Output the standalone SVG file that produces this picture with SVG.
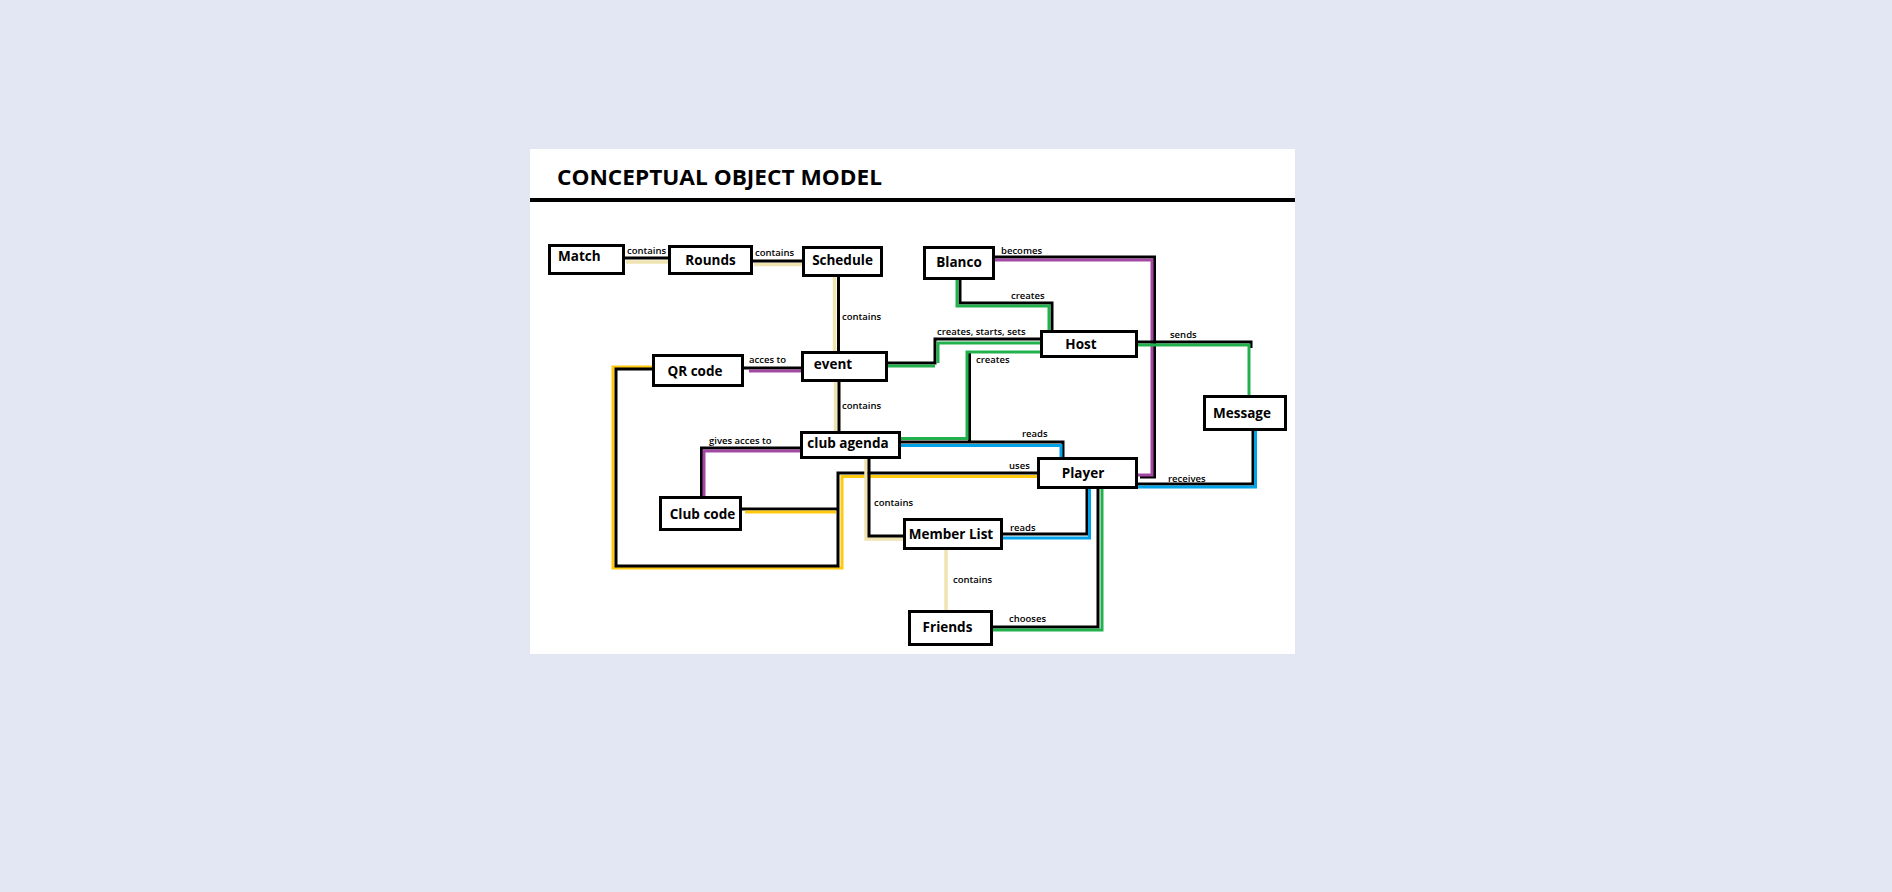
<svg xmlns="http://www.w3.org/2000/svg" width="1892" height="892" viewBox="0 0 1892 892">
<style>
.box{fill:#fff;stroke:#000;stroke-width:3}
.bt{font-family:"Open Sans","Liberation Sans",sans-serif;font-weight:700;font-size:13.5px;fill:#000}
.lb{font-family:"Open Sans","Liberation Sans",sans-serif;font-weight:600;font-size:9.5px;fill:#000}
.k{fill:none;stroke:#000;stroke-width:3}
.tan{fill:none;stroke:#EFE4B0;stroke-width:3.5}
.pur{fill:none;stroke:#A349A4;stroke-width:3}
.grn{fill:none;stroke:#22B14C;stroke-width:3}
.blu{fill:none;stroke:#00A2E8;stroke-width:3}
.yel{fill:none;stroke:#FFC90E;stroke-width:3}
</style>
<rect x="0" y="0" width="1892" height="892" fill="#E3E7F3"/>
<rect x="530" y="149" width="765" height="505" fill="#fff"/>
<text x="557" y="185" font-family="'Open Sans','Liberation Sans',sans-serif" font-weight="700" font-size="22" fill="#000" textLength="325" lengthAdjust="spacingAndGlyphs">CONCEPTUAL OBJECT MODEL</text>
<rect x="530" y="198" width="765" height="4" fill="#000"/>

<g id="connectors">
  <path class="tan" d="M626,262 H668"/>
  <path class="k" d="M625,258 H668"/>
  <path class="tan" d="M754,264.5 H802"/>
  <path class="k" d="M753,261 H802"/>
  <path class="tan" d="M834.5,277 V351"/>
  <path class="k" d="M838.5,277 V351"/>
  <path class="tan" d="M835.5,382 V431"/>
  <path class="k" d="M839,382 V431"/>
  <path class="k" d="M744,368 H801"/>
  <path class="pur" d="M749,371 H801"/>
  <path class="k" d="M800,448 H701.5 V496"/>
  <path class="pur" d="M800,451 H704 V496"/>
  <path class="k" d="M888,363 H935 V339 H1040"/>
  <path class="grn" d="M888,366 H935"/>
  <path class="grn" d="M938,363 V343 H1040"/>
  <path class="k" d="M969.5,352 V442"/>
  <path class="grn" d="M1040,352 H967 V438.5 H901"/>
  <path class="k" d="M901,442 H1063 V457"/>
  <path class="blu" d="M901,445.5 H1061 V457"/>
  <path class="k" d="M960,280 V303 H1052 V330"/>
  <path class="grn" d="M957,280 V306 H1049 V330"/>
  <path class="k" d="M995,257 H1156"/>
  <path class="k" d="M1154.5,257 V477 H1140"/>
  <path class="pur" d="M995,260 H1152 V475 H1138"/>
  <path class="k" d="M1138,342 H1251 V348"/>
  <path class="grn" d="M1138,345 H1249 V395"/>
  <path class="k" d="M1253,431 V484 H1138"/>
  <path class="blu" d="M1255.5,431 V487 H1138"/>
  <path class="yel" d="M1037,476.5 H842 V568 H613 V367 H652"/>
  <path class="k" d="M1037,473 H838 V566 H616 V369 H652"/>
  <path class="k" d="M742,509 H839"/>
  <path class="yel" d="M745,512 H836"/>
  <path class="tan" d="M866,459 V539 H903"/>
  <path class="k" d="M869,459 V536 H903"/>
  <path class="k" d="M1003,534 H1087 V489"/>
  <path class="blu" d="M1003,538 H1089.5 V489"/>
  <path class="tan" d="M946,550 V610"/>
  <path class="k" d="M993,627 H1098 V489"/>
  <path class="grn" d="M993,630 H1102 V489"/>
  <text class="lb" x="627" y="254">contains</text>
  <text class="lb" x="755" y="256">contains</text>
  <text class="lb" x="842" y="320">contains</text>
  <text class="lb" x="842" y="409">contains</text>
  <text class="lb" x="749" y="363">acces to</text>
  <text class="lb" x="709" y="444">gives acces to</text>
  <text class="lb" x="937" y="335">creates, starts, sets</text>
  <text class="lb" x="976" y="363">creates</text>
  <text class="lb" x="1022" y="437">reads</text>
  <text class="lb" x="1011" y="299">creates</text>
  <text class="lb" x="1001" y="254">becomes</text>
  <text class="lb" x="1170" y="338">sends</text>
  <text class="lb" x="1168" y="482">receives</text>
  <text class="lb" x="1009" y="469">uses</text>
  <text class="lb" x="874" y="506">contains</text>
  <text class="lb" x="1010" y="531">reads</text>
  <text class="lb" x="953" y="583">contains</text>
  <text class="lb" x="1009" y="622">chooses</text>
</g>

<g id="match"><rect class="box" x="549.5" y="245.5" width="74" height="28"/><text class="bt" x="558" y="261">Match</text></g>
<g id="rounds"><rect class="box" x="669.5" y="246.5" width="82" height="27"/><text class="bt" x="710.5" y="265" text-anchor="middle">Rounds</text></g>
<g id="schedule"><rect class="box" x="803.5" y="247.5" width="78" height="28"/><text class="bt" x="842.5" y="265" text-anchor="middle">Schedule</text></g>
<g id="blanco"><rect class="box" x="924.5" y="247.5" width="69" height="31"/><text class="bt" x="959" y="267" text-anchor="middle">Blanco</text></g>
<g id="host"><rect class="box" x="1041.5" y="331.5" width="95" height="25"/><text class="bt" x="1081" y="349" text-anchor="middle">Host</text></g>
<g id="qrcode"><rect class="box" x="653.5" y="355.5" width="89" height="30"/><text class="bt" x="695" y="376" text-anchor="middle">QR code</text></g>
<g id="event"><rect class="box" x="802.5" y="352.5" width="84" height="28"/><text class="bt" x="833" y="369" text-anchor="middle">event</text></g>
<g id="clubagenda"><rect class="box" x="801.5" y="432.5" width="98" height="25"/><text class="bt" x="848" y="448" text-anchor="middle">club agenda</text></g>
<g id="player"><rect class="box" x="1038.5" y="458.5" width="98" height="29"/><text class="bt" x="1083" y="478" text-anchor="middle">Player</text></g>
<g id="message"><rect class="box" x="1204.5" y="396.5" width="81" height="33"/><text class="bt" x="1242" y="418" text-anchor="middle">Message</text></g>
<g id="clubcode"><rect class="box" x="660.5" y="497.5" width="80" height="32"/><text class="bt" x="702.5" y="519" text-anchor="middle">Club code</text></g>
<g id="memberlist"><rect class="box" x="904.5" y="519.5" width="97" height="29"/><text class="bt" x="951" y="539" text-anchor="middle">Member List</text></g>
<g id="friends"><rect class="box" x="909.5" y="611.5" width="82" height="33"/><text class="bt" x="947.5" y="632" text-anchor="middle">Friends</text></g>
</svg>
